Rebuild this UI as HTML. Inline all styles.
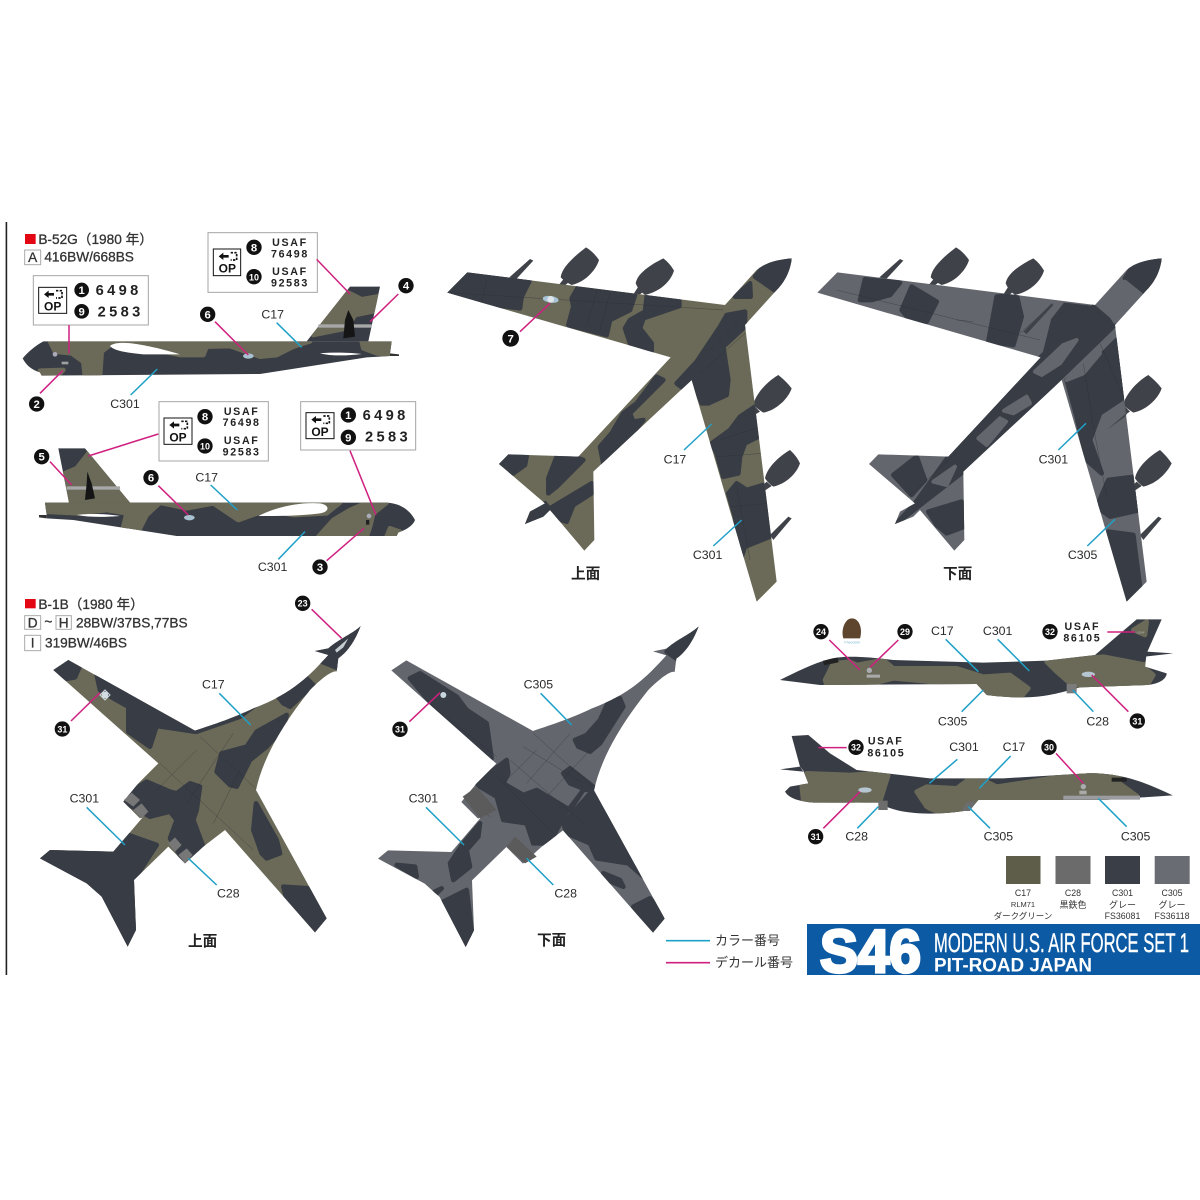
<!DOCTYPE html>
<html><head><meta charset="utf-8"><title>S46 Modern U.S. Air Force Set 1</title>
<style>
html,body{margin:0;padding:0;background:#fff}
svg{display:block}
text{font-family:"Liberation Sans","Noto Sans CJK JP",sans-serif}
.l{font-size:37px;fill:#2a2a2a;text-anchor:middle}
.tt{font-size:41px;fill:#333;stroke:#333;stroke-width:.9}
.hd{font-size:44px;font-weight:bold;fill:#222;text-anchor:middle}
.b{stroke:#1fa0c8;stroke-width:4.5;fill:none}
.p{stroke:#cf2080;stroke-width:4.5;fill:none}
.o{fill:#6b6a58}
.d{fill:#383c45}
.g{fill:#63666c}
.n{fill:#111}
.dr path{stroke:#383c45;stroke-width:14;stroke-linejoin:round}
.or path{stroke:#6b6a58;stroke-width:14;stroke-linejoin:round}
.gr path{fill:#63666c;stroke:#63666c;stroke-width:12;stroke-linejoin:round}
.nt{fill:#fff;font-size:34px;font-weight:bold;text-anchor:middle}
.nts{fill:#fff;font-size:27px;font-weight:bold;text-anchor:middle}
.box{fill:#fff;stroke:#a5a5a5;stroke-width:3}
.dc{font-weight:bold;fill:#222;letter-spacing:5px;font-size:32px;text-anchor:middle}
.dl{font-weight:bold;fill:#222;letter-spacing:10px;font-size:44px}
.pod{fill:#3f4248}
.pl{stroke:#2c2f36;stroke-width:1.5;fill:none;opacity:.6}
.s{font-size:8.8px;fill:#333;text-anchor:middle}
.op{font-weight:bold;font-size:36px;fill:#111;text-anchor:middle}
.bx{fill:#fff;stroke:#aaa;stroke-width:3}
</style></head><body>
<svg width="1200" height="1200" viewBox="0 0 1200 1200" xmlns="http://www.w3.org/2000/svg">
<defs>
<clipPath id="b1"><path d="M68,415C85,395 105,378 130,364L1175,364L1170,400L1170,408L1100,412L780,462L125,467L120,457C95,450 78,435 68,415Z"/></clipPath>
<clipPath id="b2"><path d="M1245,900C1230,870 1200,850 1160,848L135,848L140,885L140,895L220,900L530,948L1190,948L1195,937C1220,930 1240,915 1245,900Z"/></clipPath>
<clipPath id="fin1"><path d="M920,364L1050,200L1140,200L1105,364Z"/></clipPath>
<clipPath id="fin2"><path d="M390,848L255,685L175,685L207,848Z"/></clipPath>
<clipPath id="pl"><path d="M1085,55C1082,90 1065,125 1040,150L945,255L1040,1025L980,1085L785,420L490,695L493,900L463,932L360,810L340,830L285,852L300,815L345,790L207,672L235,643L445,650L722,352L52,158L112,97L885,195L980,90C1010,65 1050,58 1085,55Z"/></clipPath>
<clipPath id="bt"><path d="M1082,108C1060,130 1020,145 985,175L945,183L985,195C930,255 880,310 760,355C700,385 620,410 585,422L205,210L160,240L475,520L415,580L370,635L420,685L430,680L340,785L150,780L120,805L260,880L305,920L383,1070L408,1020L402,870L505,770L555,820L610,770L675,720L945,1027L980,985L768,600C790,500 850,400 930,300C970,260 1000,240 1010,245L1015,205C1050,180 1070,140 1082,108Z"/></clipPath>
<clipPath id="bu"><path transform="translate(-96,-59)" d="M1082,108C1060,130 1020,145 985,175L945,183L985,195C930,255 880,310 760,355C700,385 620,410 585,422L205,210L160,240L475,520L415,580L370,635L420,685L430,680L340,785L150,780L120,805L260,880L305,920L383,1070L408,1020L402,870L505,770L555,820L610,770L675,720L945,1027L980,985L768,600C790,500 850,400 930,300C970,260 1000,240 1010,245L1015,205C1050,180 1070,140 1082,108Z"/></clipPath>
<clipPath id="s1"><path d="M30,210C80,185 130,160 175,148C220,135 290,140 370,150L640,158L830,152L975,135L1100,28L1175,28L1130,130L1125,170L1190,190C1190,205 1170,222 1130,225L930,232L900,240C830,260 770,270 650,255L620,222L150,225Z"/></clipPath>
<clipPath id="s2"><path d="M1208,556C1130,520 1060,488 950,490L700,505L480,505L260,480L180,430L115,375L65,378L90,470L100,482L115,520L60,530L45,545C60,570 100,575 130,578L325,578C380,612 480,620 600,600L625,570L1000,570Z"/></clipPath>
</defs>
<rect width="1200" height="1200" fill="#fff"/>
<rect x="5.6" y="222" width="1.6" height="753" fill="#222"/>

<!-- CROP 1 : B-52 side views -->
<g transform="translate(0,220) scale(.33333)">
<rect x="75" y="42" width="32" height="30" fill="#e30613"/>
<text x="115" y="72" class="tt">B-52G（1980 年）</text>
<rect x="74" y="90" width="48" height="44" class="bx"/>
<text x="98" y="126" text-anchor="middle" class="tt">A</text>
<text x="133" y="125" class="tt">416BW/668BS</text>

<!-- upper B-52 -->
<path class="d" d="M920,364L1050,200L1140,200L1105,364Z"/>
<g clip-path="url(#fin1)" class="or">
<path class="o" d="M1040,215L1085,238L1140,228L1130,272L1065,285L1040,325L940,345L1000,270Z"/>
</g>
<path d="M1170,400L1197,403V408L1170,408Z" fill="#333"/>
<path class="d" d="M68,415C85,395 105,378 130,364L1175,364L1170,400L1170,408L1100,412L780,462L125,467L120,457C95,450 78,435 68,415Z"/>
<g clip-path="url(#b1)" class="or">
<path class="o" d="M150,364L345,364L305,395L300,470L255,470L250,425L215,400L165,395Z"/>
<path class="o" d="M345,364L930,364L880,380L830,405L780,410L690,378L620,380L610,405L540,405L400,375Z"/>
<path class="o" d="M1085,364L1180,364L1175,405L1130,400L1090,385Z"/>
<path class="o" d="M120,452L190,450L170,470L120,470Z"/>
</g>
<path d="M330,378C350,360 420,368 540,403L430,403C370,398 340,390 330,378Z" fill="#fff"/>
<path d="M960,400C1000,396 1060,398 1085,402C1040,408 990,408 960,400Z" fill="#fff"/>
<rect x="955" y="313" width="160" height="10" fill="#a8a8a8"/>
<path d="M1030,355L1035,300L1045,270L1060,300L1065,350Z" fill="#151515"/>
<ellipse cx="745" cy="408" rx="16" ry="8" fill="#a9c2d2"/>
<circle cx="165" cy="403" r="7" fill="#aab"/><rect x="185" y="425" width="20" height="8" fill="#a0a0a0"/>

<!-- decal box 1 -->
<rect x="100" y="167" width="345" height="148" class="box"/>
<rect x="116" y="202" width="84" height="78" fill="#fff" stroke="#111" stroke-width="3"/>
<g transform="translate(116,202)"><path d="M16,21L30,10V17H46V25H30V32Z" fill="#111"/><path d="M52,10H70V32H52" fill="none" stroke="#111" stroke-width="5" stroke-dasharray="7 4"/><text x="42" y="70" class="op">OP</text></g>
<circle cx="245" cy="210" r="22" class="n"/><text x="245" y="222" class="nt">1</text>
<circle cx="245" cy="274" r="22" class="n"/><text x="245" y="286" class="nt">9</text>
<text x="287" y="225" class="dl">6498</text><text x="293" y="290" class="dl">2583</text>
<line class="p" x1="207" y1="315" x2="207" y2="400"/>

<!-- decal box 2 -->
<rect x="624" y="38" width="328" height="179" class="box"/>
<rect x="640" y="87" width="82" height="80" fill="#fff" stroke="#111" stroke-width="3"/>
<g transform="translate(640,88)"><path d="M16,21L30,10V17H46V25H30V32Z" fill="#111"/><path d="M52,10H70V32H52" fill="none" stroke="#111" stroke-width="5" stroke-dasharray="7 4"/><text x="42" y="70" class="op">OP</text></g>
<circle cx="762" cy="82" r="23" class="n"/><text x="762" y="94" class="nt">8</text>
<circle cx="762" cy="170" r="23" class="n"/><text x="762" y="181" class="nts">10</text>
<text x="870" y="78" class="dc">USAF</text><text x="870" y="112" class="dc">76498</text>
<text x="870" y="165" class="dc">USAF</text><text x="870" y="199" class="dc">92583</text>
<line class="p" x1="950" y1="118" x2="1050" y2="222"/>

<line class="p" x1="188" y1="452" x2="120" y2="520"/>
<line class="p" x1="645" y1="305" x2="745" y2="405"/>
<line class="p" x1="1195" y1="222" x2="1110" y2="305"/>
<line class="b" x1="830" y1="308" x2="905" y2="382"/>
<line class="b" x1="472" y1="447" x2="392" y2="525"/>
<circle cx="110" cy="552" r="23" class="n"/><text x="110" y="564" class="nt">2</text>
<circle cx="623" cy="283" r="23" class="n"/><text x="623" y="295" class="nt">6</text>
<circle cx="1218" cy="197" r="23" class="n"/><text x="1218" y="209" class="nt">4</text>
<text x="818" y="295" class="l">C17</text>
<text x="375" y="564" class="l">C301</text>

<!-- lower B-52 -->
<path class="d" d="M390,848L255,685L175,685L207,848Z"/>
<g clip-path="url(#fin2)" class="or">
<path class="o" d="M265,700L230,745L195,760L207,850L400,850L330,770L290,720Z"/>
</g>
<path d="M140,885L117,885V892L140,895Z" fill="#333"/>
<path class="d" d="M1245,900C1230,870 1200,850 1160,848L135,848L140,885L140,895L220,900L530,948L1190,948L1195,937C1220,930 1240,915 1245,900Z"/>
<g clip-path="url(#b2)" class="or">
<path class="o" d="M130,848L480,848L440,885L420,925L370,920L380,880L320,870L230,880L135,875Z"/>
<path class="o" d="M480,848L1020,848L980,880L880,885L800,870L715,900L640,850L560,865Z"/>
<path class="o" d="M1100,848L1160,848L1120,880L1110,920L1100,950L955,950L1000,900L1050,870Z"/>
<path class="o" d="M1170,925L1200,935L1190,950L1160,950Z"/>
</g>
<path d="M775,888C820,865 890,845 960,850C990,855 990,875 960,880C900,888 830,888 775,888Z" fill="#fff"/>
<path d="M230,885C270,880 320,882 360,888C310,892 270,892 230,885Z" fill="#fff"/>
<rect x="200" y="799" width="160" height="10" fill="#a8a8a8"/>
<path d="M255,840L260,790L262,755L275,790L285,835Z" fill="#151515"/>
<ellipse cx="568" cy="893" rx="16" ry="8" fill="#a9c2d2"/>
<circle cx="1107" cy="888" r="7" fill="#aab"/><rect x="1098" y="900" width="10" height="14" fill="#222"/>

<rect x="477" y="545" width="328" height="178" class="box"/>
<rect x="492" y="594" width="84" height="79" fill="#fff" stroke="#111" stroke-width="3"/>
<g transform="translate(492,594)"><path d="M16,21L30,10V17H46V25H30V32Z" fill="#111"/><path d="M52,10H70V32H52" fill="none" stroke="#111" stroke-width="5" stroke-dasharray="7 4"/><text x="42" y="70" class="op">OP</text></g>
<circle cx="615" cy="590" r="23" class="n"/><text x="615" y="602" class="nt">8</text>
<circle cx="615" cy="678" r="23" class="n"/><text x="615" y="689" class="nts">10</text>
<text x="725" y="585" class="dc">USAF</text><text x="725" y="618" class="dc">76498</text>
<text x="725" y="672" class="dc">USAF</text><text x="725" y="706" class="dc">92583</text>

<rect x="902" y="545" width="345" height="145" class="box"/>
<rect x="918" y="578" width="84" height="78" fill="#fff" stroke="#111" stroke-width="3"/>
<g transform="translate(918,578)"><path d="M16,21L30,10V17H46V25H30V32Z" fill="#111"/><path d="M52,10H70V32H52" fill="none" stroke="#111" stroke-width="5" stroke-dasharray="7 4"/><text x="42" y="70" class="op">OP</text></g>
<circle cx="1045" cy="585" r="23" class="n"/><text x="1045" y="597" class="nt">1</text>
<circle cx="1045" cy="652" r="23" class="n"/><text x="1045" y="664" class="nt">9</text>
<text x="1088" y="600" class="dl">6498</text><text x="1095" y="665" class="dl">2583</text>

<line class="p" x1="475" y1="642" x2="265" y2="708"/>
<line class="p" x1="150" y1="725" x2="215" y2="795"/>
<line class="p" x1="475" y1="797" x2="565" y2="885"/>
<line class="p" x1="1050" y1="692" x2="1128" y2="885"/>
<line class="p" x1="1092" y1="925" x2="980" y2="1022"/>
<line class="b" x1="632" y1="795" x2="712" y2="870"/>
<line class="b" x1="915" y1="935" x2="835" y2="1018"/>
<circle cx="125" cy="710" r="23" class="n"/><text x="125" y="722" class="nt">5</text>
<circle cx="453" cy="773" r="23" class="n"/><text x="453" y="785" class="nt">6</text>
<circle cx="960" cy="1041" r="23" class="n"/><text x="960" y="1053" class="nt">3</text>
<text x="620" y="785" class="l">C17</text>
<text x="818" y="1053" class="l">C301</text>
</g>

<!-- CROP 2 : B-52 top -->
<g transform="translate(430,240) scale(.33333)">
<g class="pod">
<path d="M392,112C395,85 425,55 468,22Q490,35 507,60C500,85 470,125 425,135Q405,125 392,112Z"/><path d="M400,118L415,128L385,152L378,145Z"/>
<path d="M617,130C622,100 660,75 700,55Q720,70 732,92C722,125 690,155 645,165Q625,150 617,130Z"/><path d="M625,140L640,155L622,170L612,160Z"/>
<path d="M238,112L300,57L310,62L258,118Z"/>
<path d="M970,495C975,465 1010,425 1045,405Q1070,425 1085,445C1075,475 1040,510 1000,518Q980,505 970,495Z"/><path d="M975,500L990,515L965,530L958,515Z"/>
<path d="M1005,715C1010,685 1045,650 1080,630Q1100,648 1110,670C1100,700 1070,730 1030,740Q1015,730 1005,715Z"/><path d="M1010,725L1025,738L1000,755L995,740Z"/>
<path d="M1020,885L1075,830L1085,835L1030,900Z"/>
</g>
<path class="o" d="M1085,55C1082,90 1065,125 1040,150L945,255L1040,1025L980,1085L785,420L490,695L493,900L463,932L360,810L340,830L285,852L300,815L345,790L207,672L235,643L445,650L722,352L52,158L112,97L885,195L980,90C1010,65 1050,58 1085,55Z"/>
<g clip-path="url(#pl)" class="d dr">
<path d="M52,158L112,97L300,120L275,170L270,205L150,190Z"/>
<path d="M445,140L615,165L600,210L540,240L530,285L415,255L430,200L425,175Z"/>
<path d="M650,170L748,183L748,198L640,235L630,265L665,310L665,340L600,310L585,265L600,240L645,215Z"/>
<path d="M945,215L945,260L880,320L895,420L890,465L835,490L815,490L785,420L760,445L740,430L800,365L870,260L890,225Z"/>
<path d="M680,410L620,490L580,520L545,580L510,620L520,670L600,590L640,540L610,545L600,520L660,460L700,420Z"/>
<path d="M1090,50L1000,80L975,110L1040,155L1090,90Z"/>
<path d="M915,170L960,130L962,170Z"/>
<path d="M960,510L975,500L985,590L945,610L930,650L925,700L880,710L860,640L845,610L900,570L930,530Z"/>
<path d="M895,760L920,730L950,750L1000,735L1020,890L945,920L935,950L915,830Z"/>
<path d="M207,672L235,643L290,648L285,675L250,700Z"/>
<path d="M380,650L445,655L460,660L380,740L355,760L355,715Z"/>
<path d="M360,805L485,730L485,760L430,795L410,845L395,840Z"/>
<path d="M345,790L300,815L285,852L340,830L360,810Z"/>
</g>
<g class="pl" clip-path="url(#pl)">
<path d="M60,158L880,210M170,120L155,190M500,150L470,260M540,155L510,270M840,330L930,240M810,400L945,280M870,600L990,560M860,650L1000,640M900,800L1020,790M920,740L960,960"/>
</g>
<ellipse cx="362" cy="178" rx="24" ry="10" fill="#a9c4d6" transform="rotate(8 362 178)"/>
<circle cx="362" cy="178" r="10" fill="#dfe6ea"/>
<line class="p" x1="270" y1="275" x2="360" y2="190"/>
<line class="b" x1="762" y1="630" x2="845" y2="552"/>
<line class="b" x1="850" y1="918" x2="935" y2="840"/>
<circle cx="242" cy="295" r="25" class="n"/><text x="242" y="307" class="nt">7</text>
<text x="735" y="670" class="l">C17</text>
<text x="833" y="957" class="l">C301</text>
<text x="467" y="1015" class="hd">上面</text>
</g>

<!-- CROP 3 : B-52 bottom -->
<g transform="translate(800,240) scale(.33333)">
<g class="pod">
<path d="M392,112C395,85 425,55 468,22Q490,35 507,60C500,85 470,125 425,135Q405,125 392,112Z"/><path d="M400,118L415,128L385,152L378,145Z"/>
<path d="M617,130C622,100 660,75 700,55Q720,70 732,92C722,125 690,155 645,165Q625,150 617,130Z"/><path d="M625,140L640,155L622,170L612,160Z"/>
<path d="M238,112L300,57L310,62L258,118Z"/>
<path d="M970,495C975,465 1010,425 1045,405Q1070,425 1085,445C1075,475 1040,510 1000,518Q980,505 970,495Z"/><path d="M975,500L990,515L965,530L958,515Z"/>
<path d="M1005,715C1010,685 1045,650 1080,630Q1100,648 1115,670C1100,700 1070,730 1030,740Q1015,730 1005,715Z"/><path d="M1010,725L1025,738L1000,755L995,740Z"/>
<path d="M1020,885L1075,830L1085,835L1030,900Z"/>
</g>
<path class="g" d="M1085,55C1082,90 1065,125 1040,150L945,255L1040,1025L980,1085L785,420L490,695L493,900L463,932L360,810L340,830L285,852L300,815L345,790L207,672L235,643L445,650L722,352L52,158L112,97L885,195L980,90C1010,65 1050,58 1085,55Z"/>
<g clip-path="url(#pl)" class="d dr">
<path d="M180,180L195,118L300,128L270,165L215,180Z"/>
<path d="M305,210L335,140L410,185L380,245L325,235Z"/>
<path d="M565,305L590,170L650,165L665,230L640,315Z"/>
<path d="M735,340L760,240L795,195L880,205L830,285Z"/>
<!-- fuselage dark strip -->
<path d="M880,200L945,255L490,695L290,850L345,790L445,650L722,352Z"/>
<!-- right wing -->
<path d="M800,420L850,400L950,300L975,470L900,520L870,600L905,700L860,660L830,530Z"/>
<path d="M890,800L925,720L1005,710L1020,810L930,830Z"/>
<path d="M925,875L1000,885L1020,1040L980,1085Z"/>
<!-- nose -->
<path d="M1090,50L1000,75L975,115L1030,165L1090,90Z"/>
<!-- tail -->
<path d="M280,705L350,650L375,720L335,765Z"/>
<path d="M385,815L485,785L493,860L440,880L410,855Z"/>
</g>
<g clip-path="url(#pl)" class="gr">
<path d="M705,395L790,315L830,300L780,370L725,405Z"/>
<path d="M612,512L680,470L690,490L640,520Z"/>
<path d="M535,595L600,535L618,545L560,615Z"/>
<path d="M400,725L465,680L440,735Z"/>
<path d="M905,185L975,125L1025,165L945,245Z"/>
<path d="M800,420L860,370L900,340L850,400Z"/>
</g>
<g class="pl" clip-path="url(#pl)">
<path d="M110,150L720,300M470,240L520,245M850,370L880,560L920,770M900,310L970,470M290,800L470,640M660,280L760,190"/>
</g>
<path d="M670,275L755,190L760,195L680,282Z" class="pod"/>
<path d="M920,570L985,515L975,530Z" class="pod"/>
<line class="b" x1="775" y1="630" x2="858" y2="550"/>
<line class="b" x1="862" y1="918" x2="945" y2="838"/>
<text x="760" y="670" class="l">C301</text>
<text x="848" y="957" class="l">C305</text>
<text x="473" y="1015" class="hd">下面</text>
</g>

<!-- CROP 4 : B-1 top -->
<g transform="translate(0,590) scale(.33333)">
<rect x="75" y="27" width="32" height="28" fill="#e30613"/>
<text x="115" y="57" class="tt">B-1B（1980 年）</text>
<rect x="74" y="77" width="48" height="41" class="bx"/><text x="98" y="112" text-anchor="middle" class="tt">D</text>
<text x="145" y="110" text-anchor="middle" class="tt">~</text>
<rect x="168" y="77" width="46" height="41" class="bx"/><text x="191" y="112" text-anchor="middle" class="tt">H</text>
<text x="228" y="112" class="tt">28BW/37BS,77BS</text>
<rect x="74" y="136" width="48" height="46" class="bx"/><text x="98" y="173" text-anchor="middle" class="tt">I</text>
<text x="135" y="172" class="tt">319BW/46BS</text>

<path class="o" d="M1082,108C1060,130 1020,145 985,175L945,183L985,195C930,255 880,310 760,355C700,385 620,410 585,422L205,210L160,240L475,520L415,580L370,635L420,685L430,680L340,785L150,780L120,805L260,880L305,920L383,1070L408,1020L402,870L505,770L555,820L610,770L675,720L945,1027L980,985L768,600C790,500 850,400 930,300C970,260 1000,240 1010,245L1015,205C1050,180 1070,140 1082,108Z"/>
<g clip-path="url(#bt)" class="d dr">
<path d="M160,240L205,210L238,232L225,262L190,268Z"/>
<path d="M290,255L585,425L470,408L450,470L385,425L385,350L340,325L300,300Z"/>
<path d="M400,600L440,575L510,605L530,610L570,580L600,590L590,660L580,690L610,770L555,820L510,745L530,690L510,665L450,680L370,635Z"/>
<path d="M385,735L470,765L402,870L408,1020L383,1070L305,920L260,880L120,805L150,780L340,785Z"/>
<path d="M650,545L665,490L740,470L770,425L860,375L850,415L800,470L750,510L710,590L690,585Z"/>
<path d="M590,425L700,385L780,335L720,380Z"/>
<path d="M830,315L920,265L940,285L870,350L850,340Z"/>
<path d="M1082,108L1015,235L965,215L945,183L985,175C1020,145 1060,130 1082,108Z"/>
<path d="M768,640L830,750L840,790L800,805L785,790L760,720Z"/>
<path d="M850,890L925,895L980,985L945,1027L860,930Z"/>
</g>
<g class="pl" clip-path="url(#bt)"><path d="M600,440L880,700M590,480L470,600M700,430L560,640M720,540L640,700M480,520L760,780"/></g>
<g fill="#777"><path d="M372,630L395,608L420,630L400,650Z"/><path d="M400,660L425,640L445,665L425,685Z"/><path d="M505,760L525,742L545,765L525,785Z"/><path d="M535,795L560,775L578,795L555,820Z"/></g>
<path d="M1005,180L1045,145L1030,172L1010,188Z" fill="#c5ccd2"/>
<circle cx="315" cy="315" r="10" fill="#d2dbe0"/><path d="M300,315L315,300L330,315L315,330Z" fill="none" stroke="#cfd8de" stroke-width="3"/>
<line class="p" x1="935" y1="58" x2="1025" y2="145"/>
<line class="p" x1="213" y1="393" x2="300" y2="308"/>
<line class="b" x1="658" y1="310" x2="752" y2="405"/>
<line class="b" x1="260" y1="652" x2="375" y2="765"/>
<line class="b" x1="650" y1="885" x2="565" y2="805"/>
<circle cx="908" cy="40" r="23" class="n"/><text x="908" y="50" class="nts">23</text>
<circle cx="187" cy="417" r="23" class="n"/><text x="187" y="427" class="nts">31</text>
<text x="640" y="295" class="l">C17</text>
<text x="253" y="638" class="l">C301</text>
<text x="685" y="922" class="l">C28</text>
<text x="608" y="1068" class="hd">上面</text>
</g>

<!-- CROP 5 : B-1 bottom -->
<g transform="translate(370,610) scale(.33333)">
<path class="g" transform="translate(-96,-59)" d="M1082,108C1060,130 1020,145 985,175L945,183L985,195C930,255 880,310 760,355C700,385 620,410 585,422L205,210L160,240L475,520L415,580L370,635L420,685L430,680L340,785L150,780L120,805L260,880L305,920L383,1070L408,1020L402,870L505,770L555,820L610,770L675,720L945,1027L980,985L768,600C790,500 850,400 930,300C970,260 1000,240 1010,245L1015,205C1050,180 1070,140 1082,108Z"/>
<g clip-path="url(#bu)" class="d dr">
<path d="M120,205L150,190L260,260L290,300L350,340L365,445L300,385L200,300Z"/>
<path d="M320,520L370,480L410,450L415,490L400,520L460,555L500,540L600,600L640,540L580,620L540,700L490,700L470,640L400,630L380,560L330,530Z"/>
<path d="M670,540L820,800L775,760L680,745L660,700L590,670L580,640Z"/>
<path d="M790,890L840,865L885,915L850,965Z"/>
<path d="M700,790L750,810L760,830L710,810Z"/>
<path d="M615,390L650,375L690,330L715,275L750,265L760,290L690,400L660,425L625,410Z"/>
<path d="M580,490L600,475L670,530L650,540L600,520Z"/>
<path d="M985,48L890,125L925,150Z"/>
<path d="M330,640L280,700L240,760L250,810L300,770L290,720L325,680Z"/>
<path d="M210,880L290,840L310,1000L285,1010Z"/>
<path d="M80,765L135,770L140,800Z"/>
<path d="M165,860L215,835L180,868Z"/>
</g>
<g class="pl" clip-path="url(#bu)"><path d="M490,370L700,560M460,410L640,520M420,450L640,640M380,500L560,680M500,420L400,520M600,370L470,520M660,420L530,560M300,570L360,620M420,700L470,750M60,190L380,440"/></g>
<path d="M278,560L320,530L380,600L330,625Z" fill="#5b5b5b"/>
<path d="M410,710L435,680L500,740L465,760Z" fill="#5b5b5b"/>
<circle cx="220" cy="255" r="9" fill="#c7d5dc"/>
<line class="p" x1="118" y1="335" x2="210" y2="248"/>
<line class="b" x1="512" y1="250" x2="605" y2="345"/>
<line class="b" x1="168" y1="592" x2="282" y2="705"/>
<line class="b" x1="550" y1="825" x2="470" y2="745"/>
<circle cx="90" cy="358" r="23" class="n"/><text x="90" y="368" class="nts">31</text>
<text x="505" y="235" class="l">C305</text>
<text x="160" y="578" class="l">C301</text>
<text x="587" y="862" class="l">C28</text>
<text x="545" y="1005" class="hd">下面</text>
</g>

<!-- CROP 6 : B-1 side views -->
<g transform="translate(770,610) scale(.33333)">
<path d="M1130,125L1210,130L1125,140Z" fill="#383c45"/>
<path class="d" d="M30,210C80,185 130,160 175,148C220,135 290,140 370,150L640,158L830,152L975,135L1100,28L1175,28L1130,130L1125,170L1190,190C1190,205 1170,222 1130,225L930,232L900,240C830,260 770,270 650,255L620,222L150,225Z"/>
<g clip-path="url(#s1)" class="o or">
<path d="M165,210L190,160L240,155L260,165L340,150L370,175L560,175L640,200L720,195L775,235L750,265L650,258L620,222L480,215L370,205L290,225L170,225Z"/>
<path d="M830,155L1000,140L1130,165L1125,175L1150,195L1130,228L950,232L900,220L860,185Z"/>
<path d="M1090,60L1130,35L1125,75Z"/>
</g>
<rect x="160" y="148" width="45" height="14" fill="#222" transform="rotate(-12 180 155)"/>
<circle cx="298" cy="181" r="8" fill="#a9adb0"/><rect x="290" y="194" width="40" height="9" fill="#aaa"/>
<ellipse cx="955" cy="193" rx="20" ry="8" fill="#b5c6d2"/>
<rect x="890" y="222" width="30" height="28" fill="#7b7b7b"/>
<path d="M245,25C270,25 278,60 270,85H220C212,60 225,25 245,25Z" fill="#5d452e"/>
<text x="247" y="100" text-anchor="middle" style="font-size:12px;fill:#7db7d0">Freedom</text>
<text x="1112" y="70" text-anchor="middle" style="font-size:9px;fill:#bbb">USAF</text>

<path class="d" d="M1208,556C1130,520 1060,488 950,490L700,505L480,505L260,480L180,430L115,375L65,378L90,470L100,482L115,520L60,530L45,545C60,570 100,575 130,578L325,578C380,612 480,620 600,600L625,570L1000,570Z"/>
<path d="M90,470L30,478L100,485Z" fill="#383c45"/>
<g clip-path="url(#s2)" class="o or">
<path d="M95,525L110,490L240,495L320,490L355,495L330,575L260,570L220,580L100,575Z"/>
<path d="M440,545L470,530L560,535L600,505L640,510L680,530L780,515L960,485L1030,490L1100,550L1100,572L640,572L620,575L600,605C540,615 490,605 470,590Z"/>
</g>
<path d="M1040,505L1100,520L1208,556L1110,556Z" fill="#383c45"/>
<rect x="1025" y="503" width="45" height="12" fill="#222"/>
<rect x="880" y="557" width="230" height="12" fill="#9a9ca0"/>
<circle cx="940" cy="530" r="8" fill="#a9adb0"/><rect x="928" y="542" width="22" height="11" fill="#aaa"/>
<ellipse cx="285" cy="540" rx="20" ry="8" fill="#b5c6d2"/>
<rect x="325" y="572" width="28" height="28" fill="#6d6d6d"/>
<path d="M590,575H618L600,603H575Z" fill="#6d6d6d"/>
<line class="p" x1="178" y1="90" x2="270" y2="180"/>
<line class="p" x1="385" y1="90" x2="300" y2="172"/>
<line class="p" x1="1012" y1="66" x2="1095" y2="66"/>
<line class="p" x1="965" y1="195" x2="1075" y2="305"/>
<line class="p" x1="230" y1="413" x2="145" y2="413"/>
<line class="p" x1="858" y1="430" x2="940" y2="520"/>
<line class="p" x1="270" y1="545" x2="160" y2="655"/>
<line class="b" x1="527" y1="88" x2="625" y2="185"/>
<line class="b" x1="683" y1="88" x2="778" y2="183"/>
<line class="b" x1="640" y1="240" x2="575" y2="305"/>
<line class="b" x1="908" y1="240" x2="970" y2="305"/>
<line class="b" x1="562" y1="448" x2="478" y2="520"/>
<line class="b" x1="722" y1="438" x2="628" y2="535"/>
<line class="b" x1="325" y1="590" x2="262" y2="655"/>
<line class="b" x1="595" y1="590" x2="660" y2="655"/>
<line class="b" x1="985" y1="565" x2="1070" y2="650"/>
<circle cx="153" cy="65" r="23" class="n"/><text x="153" y="75" class="nts">24</text>
<circle cx="405" cy="65" r="23" class="n"/><text x="405" y="75" class="nts">29</text>
<circle cx="840" cy="65" r="23" class="n"/><text x="840" y="75" class="nts">32</text>
<circle cx="1102" cy="333" r="23" class="n"/><text x="1102" y="343" class="nts">31</text>
<circle cx="258" cy="412" r="23" class="n"/><text x="258" y="422" class="nts">32</text>
<circle cx="837" cy="412" r="23" class="n"/><text x="837" y="422" class="nts">30</text>
<circle cx="137" cy="680" r="23" class="n"/><text x="137" y="690" class="nts">31</text>
<text x="937" y="60" class="dc">USAF</text><text x="937" y="94" class="dc">86105</text>
<text x="347" y="404" class="dc">USAF</text><text x="349" y="440" class="dc">86105</text>
<text x="517" y="75" class="l">C17</text>
<text x="683" y="75" class="l">C301</text>
<text x="548" y="346" class="l">C305</text>
<text x="983" y="346" class="l">C28</text>
<text x="582" y="423" class="l">C301</text>
<text x="732" y="423" class="l">C17</text>
<text x="260" y="692" class="l">C28</text>
<text x="685" y="692" class="l">C305</text>
<text x="1097" y="692" class="l">C305</text>
</g>

<!-- swatches -->
<rect x="1006" y="856" width="34.5" height="28" fill="#5d5d4a"/>
<rect x="1055.5" y="856" width="35" height="28" fill="#6b6b6c"/>
<rect x="1105" y="856" width="35" height="28" fill="#3a3e46"/>
<rect x="1154.7" y="856" width="35" height="28" fill="#696c72"/>
<text x="1023" y="896" class="s">C17</text>
<text x="1023" y="907" class="s" style="font-size:7.5px">RLM71</text>
<text x="1023" y="919" class="s" style="font-size:8.5px">ダークグリーン</text>
<text x="1073" y="896" class="s">C28</text>
<text x="1073" y="908" class="s" style="font-size:9px">黒鉄色</text>
<text x="1122.5" y="896" class="s">C301</text>
<text x="1122.5" y="908" class="s" style="font-size:9px">グレー</text>
<text x="1122.5" y="919" class="s">FS36081</text>
<text x="1172" y="896" class="s">C305</text>
<text x="1172" y="908" class="s" style="font-size:9px">グレー</text>
<text x="1172" y="919" class="s">FS36118</text>

<!-- legend -->
<line x1="666" y1="940.7" x2="710" y2="940.7" stroke="#1fa0c8" stroke-width="1.6"/>
<line x1="666" y1="962.7" x2="710" y2="962.7" stroke="#cf2080" stroke-width="1.6"/>
<text x="715" y="945" style="font-size:13px;fill:#333">カラー番号</text>
<text x="715" y="967" style="font-size:13px;fill:#333">デカール番号</text>

<!-- banner -->
<rect x="807" y="924" width="393" height="51" fill="#0c5aa3"/>
<text x="820" y="972" textLength="101" lengthAdjust="spacingAndGlyphs" style="font-size:60px;font-weight:bold;fill:#fff;stroke:#fff;stroke-width:3.2">S46</text>
<text x="934" y="952" textLength="255" lengthAdjust="spacingAndGlyphs" style="font-size:26.5px;fill:#fff;stroke:#fff;stroke-width:.4">MODERN U.S. AIR FORCE SET 1</text>
<text x="934" y="971.5" textLength="158" lengthAdjust="spacingAndGlyphs" style="font-size:19px;font-weight:bold;fill:#fff">PIT-ROAD JAPAN</text>
</svg>
</body></html>
